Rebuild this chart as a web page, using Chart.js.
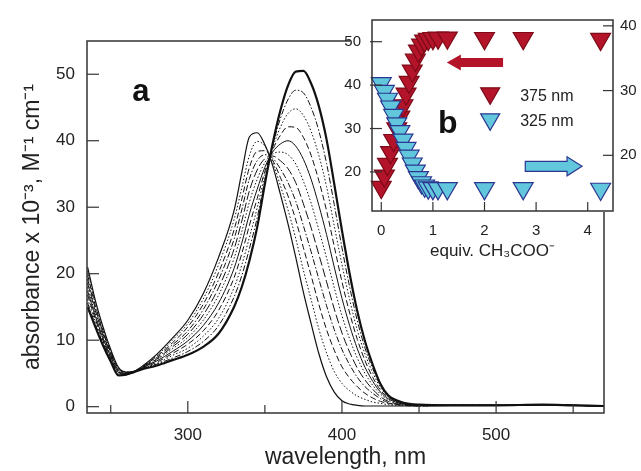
<!DOCTYPE html>
<html>
<head>
<meta charset="utf-8">
<script src="https://cdn.jsdelivr.net/npm/chart.js@4.4.0/dist/chart.umd.min.js"></script>
<style>
  html, body { margin: 0; padding: 0; background: #fff; }
  #wrap { position: relative; width: 641px; height: 471px; }
  #main { position: absolute; left: 0; top: 0; }
  #inset { position: absolute; left: 330px; top: 0; }
</style>
</head>
<body>
<div id="wrap">
  <canvas id="main" width="641" height="471"></canvas>
  <canvas id="inset" width="311" height="271"></canvas>
</div>
<script>
// ---- panel a: spectra (absorbance x 10^-3) vs wavelength, one array per titration step
const wavelengths = [235,240,245,250,255,260,265,270,280,290,300,310,320,330,335,340,345,350,355,360,365,370,375,380,385,390,395,400,405,410,415,420,425,430,440,450,470,500,530,550,570];

const abs0  = [21,16,12,8.6,5.9,5.2,5.3,6.0,7.9,10.3,13.0,17,22.5,29.5,35.2,40.6,41.2,39.4,36.3,32,27.5,22.5,17.2,12.5,8,4.5,2.2,0.9,0.4,0.2,0.1,0.1,0.1,0.1,0.1,0.1,0.2,0.2,0.3,0.2,0.1];
const abs1  = [20.4,15.6,11.7,8.4,5.8,5.2,5.3,6.0,7.7,10.0,12.5,16.2,21.4,28.1,32.9,37.8,39.9,39.2,36.8,33.3,29.6,25.3,20.5,16.1,11.7,8.1,5.3,3.5,2.4,1.6,1.1,0.7,0.5,0.3,0.2,0.1,0.2,0.2,0.3,0.2,0.1];
const abs2  = [19.8,15.2,11.4,8.2,5.7,5.1,5.3,5.9,7.6,9.6,12.0,15.4,20.2,26.6,31.2,36.0,38.4,38.5,37.1,34.5,31.7,28.1,23.9,19.7,15.4,11.6,8.5,6.0,4.3,3.0,2.0,1.3,0.8,0.5,0.2,0.1,0.2,0.2,0.3,0.2,0.1];
const abs3  = [19.2,14.8,11.2,8.1,5.5,5.1,5.3,5.9,7.4,9.3,11.4,14.6,19.1,25.2,29.6,34.3,37.0,37.9,37.4,35.8,33.7,30.9,27.2,23.3,19.2,15.2,11.6,8.6,6.3,4.4,3.0,2.0,1.2,0.6,0.3,0.2,0.2,0.2,0.3,0.2,0.1];
const abs4  = [18.6,14.4,10.9,7.9,5.4,5.0,5.3,5.8,7.2,9.0,10.9,13.8,17.9,23.7,27.9,32.5,35.6,37.3,37.7,37.0,35.8,33.7,30.5,26.9,22.9,18.8,14.7,11.1,8.2,5.8,4.0,2.6,1.5,0.8,0.3,0.2,0.2,0.2,0.3,0.2,0.1];
const abs5  = [18,14,10.6,7.7,5.3,5.0,5.3,5.8,7.1,8.7,10.4,13,16.8,22.3,26.3,30.8,34.2,36.7,38.0,38.3,37.9,36.5,33.9,30.6,26.6,22.4,17.9,13.7,10.2,7.3,5.0,3.2,1.9,1.0,0.4,0.2,0.2,0.2,0.3,0.2,0.1];
const abs6  = [17.4,13.6,10.3,7.5,5.2,5.0,5.2,5.8,6.9,8.3,9.9,12.2,15.6,20.8,24.6,29.0,32.7,36.0,38.3,39.5,40.0,39.2,37.2,34.2,30.3,25.9,21.0,16.3,12.2,8.7,5.9,3.8,2.2,1.2,0.4,0.2,0.2,0.2,0.3,0.2,0.1];
const abs7  = [16.8,13.2,10.0,7.3,5.1,4.9,5.2,5.7,6.7,8.0,9.4,11.4,14.5,19.4,23.0,27.3,31.3,35.4,38.6,40.8,42.1,42.0,40.5,37.8,34.0,29.5,24.1,18.8,14.1,10.1,6.9,4.4,2.5,1.4,0.5,0.2,0.2,0.2,0.3,0.2,0.1];
const abs8  = [16.2,12.8,9.8,7.2,4.9,4.9,5.2,5.7,6.5,7.7,8.8,10.6,13.3,17.9,21.3,25.5,29.9,34.8,38.9,42,44.1,44.8,43.8,41.4,37.8,33.1,27.2,21.4,16.1,11.5,7.9,5.1,2.9,1.5,0.5,0.3,0.2,0.2,0.3,0.2,0.1];
const abs9  = [15.6,12.4,9.5,7.0,4.8,4.8,5.2,5.6,6.4,7.3,8.3,9.8,12.2,16.5,19.7,23.8,28.4,34.1,39.2,43.3,46.2,47.6,47.2,45.0,41.5,36.6,30.4,23.9,18.0,12.9,8.8,5.7,3.2,1.7,0.6,0.3,0.2,0.2,0.3,0.2,0.1];
const abs10 = [15,12,9.2,6.8,4.7,4.8,5.2,5.6,6.2,7.0,7.8,9.0,11.0,15.0,18,22,27.0,33.5,39.5,44.5,48.3,50.4,50.5,48.6,45.2,40.2,33.5,26.5,20,14.3,9.8,6.3,3.4,1.7,0.6,0.3,0.2,0.2,0.3,0.2,0.1];

const xTickVals = [250,300,350,400,450,500,550];
const xLabelVals = [300,400,500];
const yTickVals = [0,10,20,30,40,50];

// ---- panel b: binding isotherms
const equiv   = [0,0.06,0.12,0.18,0.24,0.30,0.36,0.42,0.48,0.54,0.60,0.66,0.72,0.78,0.84,0.91,1.0,1.1,1.28,2.0,2.75,4.25];
const abs375  = [16.5,19.1,21.8,24.5,27.3,30.0,32.7,35.3,38.0,40.7,43.3,45.8,47.9,49.3,50.2,50.6,50.8,50.9,50.9,50.8,50.8,50.6];
const abs325  = [31.1,29.9,28.7,27.5,26.2,24.9,23.7,22.4,21.1,19.9,18.7,17.6,16.6,15.8,15.3,15.0,14.9,14.9,14.9,14.9,14.9,14.8];
const insetXTicks = [0,1,2,3,4];
const insetLeftTicks = [20,30,40,50];
const insetRightTicks = [20,30,40];

const FONT = '"Liberation Sans", Arial, Helvetica, sans-serif';
const INK = '#222';

const curves = [abs0, abs1, abs2, abs3, abs4, abs5, abs6, abs7, abs8, abs9, abs10];
const dashes = [[], [1.5,2], [6,3], [6,2,1.5,2], [9,3], [1.5,2], [], [6,3], [1.5,2], [6,2,1.5,2], []];
const widths = [1.2, 1, 1, 1, 1, 1, 1, 1, 1, 1, 2.2];

const noGrid = { display: false, drawTicks: false };

const mainDecor = {
  id: 'mainDecor',
  afterDraw(chart) {
    const { ctx, chartArea: a, scales: { x, y } } = chart;
    ctx.save();
    ctx.strokeStyle = '#333';
    ctx.lineWidth = 1.5;
    ctx.strokeRect(a.left, a.top, a.right - a.left, a.bottom - a.top);
    ctx.lineWidth = 1.2;
    x.ticks.forEach(t => {
      const px = x.getPixelForValue(t.value);
      const len = xLabelVals.includes(t.value) ? 12 : 8;
      ctx.beginPath(); ctx.moveTo(px, a.bottom); ctx.lineTo(px, a.bottom - len); ctx.stroke();
    });
    y.ticks.forEach(t => {
      const py = y.getPixelForValue(t.value);
      ctx.beginPath(); ctx.moveTo(a.left, py); ctx.lineTo(a.left + 12, py); ctx.stroke();
    });
    ctx.fillStyle = '#111';
    ctx.font = 'bold 31px ' + FONT;
    ctx.textBaseline = 'alphabetic';
    ctx.fillText('a', x.getPixelForValue(264), y.getPixelForValue(46));
    ctx.restore();
  }
};

new Chart(document.getElementById('main'), {
  type: 'line',
  data: {
    datasets: curves.map((c, i) => ({
      data: wavelengths.map((w, j) => ({ x: w, y: c[j] })),
      borderColor: '#111',
      borderWidth: widths[i],
      borderDash: dashes[i],
      pointRadius: 0,
      fill: false,
      cubicInterpolationMode: 'monotone'
    }))
  },
  options: {
    responsive: false,
    animation: false,
    layout: { padding: { left: 0, top: 41, right: 37, bottom: 0 } },
    plugins: { legend: { display: false }, tooltip: { enabled: false } },
    scales: {
      x: {
        type: 'linear', min: 234.6, max: 570,
        grid: noGrid, border: { display: false },
        afterBuildTicks: s => { s.ticks = xTickVals.map(v => ({ value: v })); },
        afterFit: s => { s.height = 58; },
        ticks: {
          padding: 12, color: INK, font: { family: FONT, size: 17 },
          maxRotation: 0, autoSkip: false,
          callback: v => xLabelVals.includes(v) ? String(v) : ''
        },
        title: { display: true, text: 'wavelength, nm', color: INK, font: { family: FONT, size: 23 }, padding: { top: 0, bottom: 0 } }
      },
      y: {
        type: 'linear', min: -0.95, max: 55,
        grid: noGrid, border: { display: false },
        afterBuildTicks: s => { s.ticks = yTickVals.map(v => ({ value: v })); },
        afterFit: s => { s.width = 87; },
        ticks: { padding: 12, color: INK, font: { family: FONT, size: 17 } },
        title: { display: true, text: 'absorbance x 10⁻³, M⁻¹ cm⁻¹', color: INK, font: { family: FONT, size: 23 }, padding: { top: 19, bottom: 0 } }
      }
    }
  },
  plugins: [mainDecor]
});

const RED = '#b3142a', RED_EDGE = '#7d0a18';
const CYAN = '#62c6dc', CYAN_EDGE = '#2b3690';

function triangleDown(ctx, cx, cy, r) {
  ctx.beginPath();
  ctx.moveTo(cx, cy + r);
  ctx.lineTo(cx - 0.866 * r, cy - 0.5 * r);
  ctx.lineTo(cx + 0.866 * r, cy - 0.5 * r);
  ctx.closePath();
}

function arrow(ctx, x0, x1, yc, half, headLen, headHalf) {
  const dir = Math.sign(x1 - x0);
  const xb = x1 - dir * headLen;
  ctx.beginPath();
  ctx.moveTo(x0, yc - half);
  ctx.lineTo(xb, yc - half);
  ctx.lineTo(xb, yc - headHalf);
  ctx.lineTo(x1, yc);
  ctx.lineTo(xb, yc + headHalf);
  ctx.lineTo(xb, yc + half);
  ctx.lineTo(x0, yc + half);
  ctx.closePath();
}

const insetDecor = {
  id: 'insetDecor',
  beforeDraw(chart) {
    const { ctx, chartArea: a } = chart;
    ctx.save();
    ctx.fillStyle = '#fff';
    ctx.fillRect(20, 0, chart.width - 20, a.bottom + 1);
    ctx.restore();
  },
  afterDraw(chart) {
    const { ctx, chartArea: a, scales: { x, y, y2 } } = chart;
    ctx.save();
    ctx.strokeStyle = '#333';
    ctx.lineWidth = 1.5;
    ctx.strokeRect(a.left, a.top, a.right - a.left, a.bottom - a.top);
    ctx.lineWidth = 1.2;
    x.ticks.forEach(t => {
      const px = x.getPixelForValue(t.value);
      ctx.beginPath(); ctx.moveTo(px, a.bottom); ctx.lineTo(px, a.bottom - 9); ctx.stroke();
    });
    y.ticks.forEach(t => {
      const py = y.getPixelForValue(t.value);
      ctx.beginPath(); ctx.moveTo(a.left - 2, py); ctx.lineTo(a.left + 10, py); ctx.stroke();
    });
    y2.ticks.forEach(t => {
      const py = y2.getPixelForValue(t.value);
      ctx.beginPath(); ctx.moveTo(a.right, py); ctx.lineTo(a.right - 10, py); ctx.stroke();
    });

    // direction arrows
    const ry = y.getPixelForValue(45.2);
    arrow(ctx, x.getPixelForValue(2.36), x.getPixelForValue(1.27), ry, 4.5, 14, 8);
    ctx.fillStyle = RED; ctx.fill();
    const cyy = y2.getPixelForValue(18.3);
    arrow(ctx, x.getPixelForValue(2.79), x.getPixelForValue(3.89), cyy, 5, 15, 9.5);
    ctx.fillStyle = CYAN; ctx.fill();
    ctx.strokeStyle = CYAN_EDGE; ctx.lineWidth = 1.2; ctx.stroke();

    // legend
    const lx = x.getPixelForValue(2.11);
    const l1 = y.getPixelForValue(38.1);
    triangleDown(ctx, lx, l1, 11);
    ctx.fillStyle = RED; ctx.fill(); ctx.strokeStyle = RED_EDGE; ctx.stroke();
    triangleDown(ctx, lx, l1 + 26, 11);
    ctx.fillStyle = CYAN; ctx.fill(); ctx.strokeStyle = CYAN_EDGE; ctx.stroke();
    ctx.fillStyle = INK;
    ctx.font = '16px ' + FONT;
    ctx.textBaseline = 'alphabetic';
    ctx.fillText('375 nm', lx + 30, l1 + 8);
    ctx.fillText('325 nm', lx + 30, l1 + 33);

    ctx.fillStyle = '#111';
    ctx.font = 'bold 32px ' + FONT;
    ctx.fillText('b', x.getPixelForValue(1.10), y.getPixelForValue(29.0));
    ctx.restore();
  }
};

new Chart(document.getElementById('inset'), {
  type: 'scatter',
  data: {
    datasets: [
      {
        label: '325 nm', yAxisID: 'y2',
        data: equiv.map((e, i) => ({ x: e, y: abs325[i] })),
        pointStyle: 'triangle', rotation: 180, pointRadius: 11.5,
        backgroundColor: CYAN, borderColor: CYAN_EDGE, borderWidth: 1.2, clip: false
      },
      {
        label: '375 nm', yAxisID: 'y',
        data: equiv.map((e, i) => ({ x: e, y: abs375[i] })),
        pointStyle: 'triangle', rotation: 180, pointRadius: 11.5,
        backgroundColor: RED, borderColor: RED_EDGE, borderWidth: 1.2, clip: false
      }
    ]
  },
  options: {
    responsive: false,
    animation: false,
    layout: { padding: { left: 0, top: 16, right: 0, bottom: 0 } },
    plugins: { legend: { display: false }, tooltip: { enabled: false } },
    scales: {
      x: {
        type: 'linear', min: -0.18, max: 4.49,
        grid: noGrid, border: { display: false },
        afterBuildTicks: s => { s.ticks = insetXTicks.map(v => ({ value: v })); },
        afterFit: s => { s.height = 60; },
        ticks: { padding: 11, color: INK, font: { family: FONT, size: 15 }, maxRotation: 0, autoSkip: false },
        title: { display: true, text: 'equiv. CH₃COO⁻', color: INK, font: { family: FONT, size: 17 }, padding: { top: 0, bottom: 9 } }
      },
      y: {
        position: 'left', min: 11, max: 55,
        grid: noGrid, border: { display: false },
        afterBuildTicks: s => { s.ticks = insetLeftTicks.map(v => ({ value: v })); },
        afterFit: s => { s.width = 42; },
        ticks: { padding: 11, color: INK, font: { family: FONT, size: 15 } }
      },
      y2: {
        position: 'right', min: 11.4, max: 40.9,
        grid: noGrid, border: { display: false },
        afterBuildTicks: s => { s.ticks = insetRightTicks.map(v => ({ value: v })); },
        afterFit: s => { s.width = 28; },
        ticks: { padding: 7, color: INK, font: { family: FONT, size: 15 } }
      }
    }
  },
  plugins: [insetDecor]
});
</script>
</body>
</html>
